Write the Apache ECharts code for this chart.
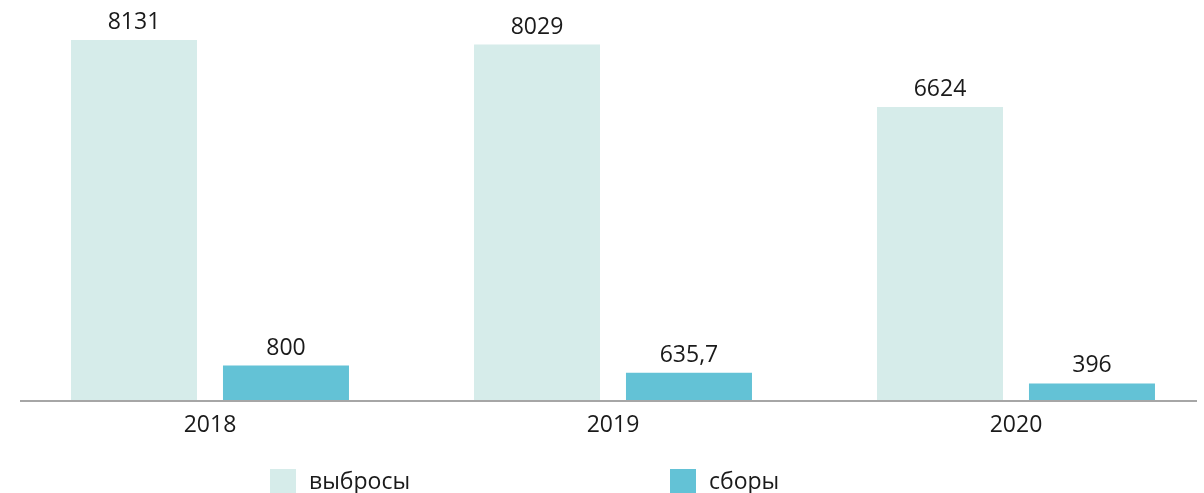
<!DOCTYPE html>
<html>
<head>
<meta charset="utf-8">
<script src="https://cdn.jsdelivr.net/npm/echarts@6/dist/echarts.min.js"></script>
<style>
  html, body { margin: 0; padding: 0; background: #fff; }
  #chart { width: 1204px; height: 493px; }
</style>
</head>
<body>
<div id="chart"></div>
<script>
const years = ["2018", "2019", "2020"];
const emissions = [8131, 8029, 6624];
const fees = [800, 635.7, 396];
const seriesNames = ["выбросы", "сборы"];

const lightColor = "#D6ECEA";
const darkColor = "#63C2D6";
const textColor = "#1a1a1a";
const font = "Open Sans";
const fontSize = 23;

const myChart = echarts.init(document.getElementById("chart"));

const labelStyle = {
  show: true,
  position: "top",
  distance: 6,
  color: textColor,
  fontFamily: font,
  fontSize: fontSize,
  formatter: (p) => String(p.value).replace(".", ",")
};

const legendCommon = {
  top: 469,
  padding: 0,
  itemWidth: 26,
  itemHeight: 26,
  icon: "rect",
  textStyle: {
    color: textColor,
    fontFamily: font,
    fontSize: fontSize,
    padding: [0, 0, 0, 8]
  }
};

const option = {
  animation: false,
  backgroundColor: "#ffffff",
  grid: {
    left: 8.5,
    width: 1209,
    top: 40,
    bottom: 92,
    containLabel: false,
    outerBoundsMode: "none"
  },
  legend: [
    Object.assign({ left: 270, data: [seriesNames[0]] }, legendCommon),
    Object.assign({ left: 670, data: [seriesNames[1]] }, legendCommon)
  ],
  xAxis: {
    type: "category",
    data: years,
    axisLine: { show: false },
    axisTick: { show: false },
    axisLabel: {
      margin: 13,
      color: textColor,
      fontFamily: font,
      fontSize: fontSize
    }
  },
  yAxis: {
    type: "value",
    min: 0,
    max: 8131,
    show: false,
    splitLine: { show: false }
  },
  graphic: [
    {
      type: "line",
      shape: { x1: 20, y1: 401, x2: 1197, y2: 401 },
      style: { stroke: "#a6a6a6", lineWidth: 2 },
      z: 10
    }
  ],
  series: [
    {
      name: seriesNames[0],
      type: "bar",
      data: emissions,
      barWidth: 126,
      barGap: "20.6%",
      itemStyle: { color: lightColor },
      label: labelStyle
    },
    {
      name: seriesNames[1],
      type: "bar",
      data: fees,
      barWidth: 126,
      itemStyle: { color: darkColor },
      label: labelStyle
    }
  ]
};

myChart.setOption(option);
</script>
</body>
</html>
